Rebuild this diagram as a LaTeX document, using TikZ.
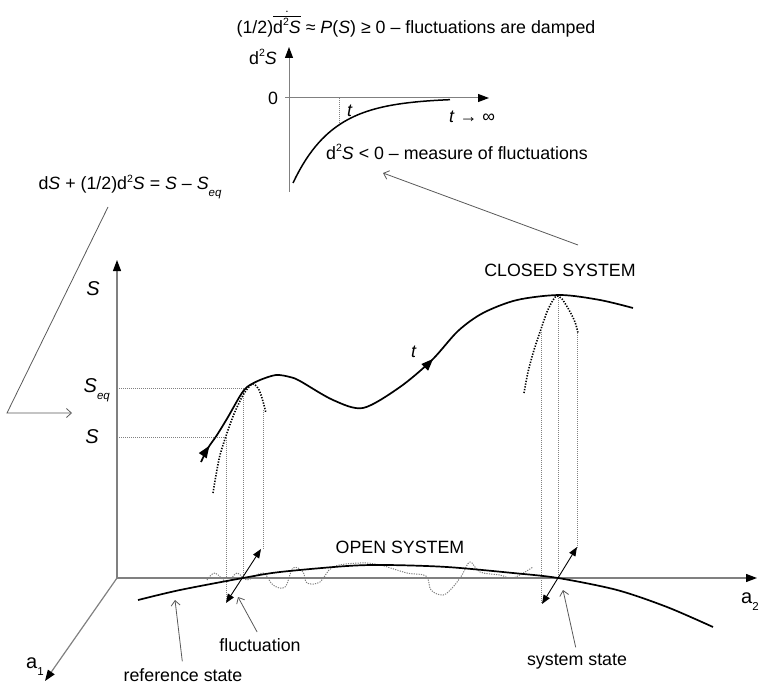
\documentclass[tikz,border=0pt]{standalone}
\usepackage{amsmath}
\usepackage{fontspec}
\setmainfont{Liberation Sans}
\usepackage{tikz}
\usetikzlibrary{arrows.meta,calc,positioning,decorations.markings}

\newcommand{\lowidx}[1]{\raisebox{-0.7ex}{\fontsize{11.5}{12}\selectfont #1}}
\newcommand{\ddue}{d\raisebox{0.8ex}{\fontsize{10.5}{11}\selectfont 2}}

\begin{document}
\begin{tikzpicture}[x=1pt, y=-1pt,
        lbl/.style={font=\fontsize{17.8}{20}\selectfont, inner sep=1pt},
        big/.style={font=\fontsize{20}{22}\selectfont, inner sep=0pt},
        asse/.style={gray, line width=1.2pt, -{Triangle[length=11pt,width=8pt,color=black]}},
        curva/.style={line width=1.7pt},
        proiez/.style={gray, line width=0.7pt, dash pattern=on 1pt off 1pt},
        parab/.style={line width=1.6pt, dash pattern=on 1.3pt off 1.5pt},
        puntatore/.style={gray!70!black, line width=0.8pt, -{Straight Barb[length=5pt,width=9pt]}},
        fluttua/.style={line width=0.9pt, {Triangle[length=9pt,width=7pt]}-{Triangle[length=9pt,width=7pt]}}]
        \useasboundingbox (0,0) rectangle (760,687);

        % Assi
        \coordinate (O) at (117,578);
        \coordinate (Sfine) at (117,260);
        \coordinate (a2fine) at (757,578);
        \coordinate (a1fine) at (45,681);
        \draw[asse] (O) -- (Sfine);
        \draw[asse] (O) -- (a2fine);
        \draw[asse] (O) -- (a1fine);
        \node[big, anchor=base west] (a2lab) at (741,603) {a\lowidx{2}};
        \node[big, anchor=base west] (a1lab) at (26,668) {a\lowidx{1}};
        \node[big, anchor=base] (Slab) at (93,295) {\textit{S}};
        \node[big, anchor=base east] (Seqlab) at (110,392) {\textit{S}\lowidx{\textit{eq}}};
        \node[big, anchor=base] (Slowlab) at (92,443) {\textit{S}};

        % Proiezioni
        \draw[proiez] (O |- 0,388) -- (243,388) -- (243,580);
        \draw[proiez] (O |- 0,437) -- (226,437) -- (226,602);
        \draw[proiez] (263,410) -- (263,549);
        \draw[proiez] (541,332) -- (541,604);
        \draw[proiez] (558,296) -- (558,578);
        \draw[proiez] (577,333) -- (577,548);

        % Sistema aperto
        \draw[gray, line width=1pt, dash pattern=on 1.2pt off 1.2pt] plot[smooth, tension=0.6] coordinates {
            (207,580) (215,573) (227,582) (237,573) (247,580) (263,573) (273,585) (285,587)
            (293,568) (303,572) (307,583) (320,582) (333,567) (360,563) (380,565) (407,573)
            (426,576) (431,590) (443,595) (453,587) (462,575) (470,562) (480,572) (500,575)
            (513,578) (533,567)};
        \draw[curva] plot[smooth] coordinates {(138,600) (180,590) (243,578) (280,572) (347,566)
            (387,565) (447,567) (513,573) (558,578) (617,590) (667,607) (713,627)};
        \node[lbl] (open) at (400,547) {OPEN SYSTEM};

        % Sistema chiuso
        \draw[curva, postaction={decorate}, decoration={markings,
                mark=at position 0.035 with {\arrow{Triangle[length=12pt,width=9pt]}},
                mark=at position 0.575 with {\arrow{Triangle[length=12pt,width=9pt]}}}]
            plot[smooth] coordinates {(201,462) (208,448) (217,435) (228,417) (240,396) (247,387)
            (260,380) (276,375) (290,377) (300,381) (333,400) (363,408) (400,387) (432,360)
            (458,331) (483,313) (517,300) (560,295) (600,300) (633,308)};
        \draw[parab] plot[smooth] coordinates {(213,493) (216,475) (220,455) (227,433) (234,414)
            (242,397) (248,388) (253,384) (258,388) (262,398) (266,413)};
        \draw[parab] plot[smooth] coordinates {(524,393) (528,372) (534,350) (540,332) (547,312)
            (553,300) (557,296) (562,299) (569,310) (575,322) (578,333)};
        \node[lbl] (closed) at (560,270) {CLOSED SYSTEM};
        \node[lbl] (tcurva) at (414,352) {\textit{t}};

        % Fluttuazioni
        \coordinate (fl1a) at (261,549);
        \coordinate (fl1b) at (226,603);
        \coordinate (fl2a) at (577,547);
        \coordinate (fl2b) at (542,604);
        \draw[fluttua] (fl1b) -- (fl1a);
        \draw[fluttua] (fl2b) -- (fl2a);

        % Etichette in basso
        \node[lbl] (refstate) at (183,675) {reference state};
        \node[lbl] (fluct) at (260,645) {fluctuation};
        \node[lbl] (sysstate) at (577,662) {system state};
        \coordinate (refpt) at (175,600);
        \coordinate (flpt) at (238,597);
        \coordinate (syspt) at (563,590);
        \draw[puntatore, shorten <=6pt] (refstate.north) -- (refpt);
        \draw[puntatore, shorten <=6pt] (fluct.north) -- (flpt);
        \draw[puntatore, shorten <=6pt] (sysstate.north) -- (syspt);

        % Equazione a sinistra
        \node[lbl] (eqS) at (130,187) {d\textit{S} + (1/2)\ddue\textit{S} = \textit{S} -- \textit{S}\lowidx{\textit{eq}}};
        \coordinate (eqpiede) at (108,207);
        \coordinate (gomito) at (7,413);
        \coordinate (Seqpt) at (72,413);
        \draw[puntatore] (eqpiede) -- (gomito) -- (Seqpt);

        % Riquadro d2S(t)
        \coordinate (O2) at (289,98);
        \draw[asse, line width=1pt] (289,192) -- (289,47);
        \draw[asse, line width=1pt] (285,98) -- (489,98);
        \draw[proiez] (339,98) -- (339,125);
        \draw[line width=1.5pt] plot[domain=293:450, samples=50] (\x, {98+85*exp(-(\x-293)/40)});
        \node[lbl] (d2S) at (263,57) {\ddue\textit{S}};
        \node[lbl] (zero) at (273,98) {0};
        \node[lbl] (tin) at (350,111) {\textit{t}};
        \node[lbl] (tinf) at (472,117) {\textit{t} → ∞};
        \node[lbl] (measure) at (457,152) {\ddue\textit{S} < 0 -- measure of fluctuations};
        \node[lbl] (damped) at (416,24) {(1/2)$\dot{\overline{\text{\ddue\textit{S}}}}$ ≈ \textit{P}(\textit{S}) ≥ 0 -- fluctuations are damped};
        \coordinate (chiusopt) at (578,245);
        \coordinate (misurapt) at (383,173);
        \draw[puntatore] (chiusopt) -- (misurapt);
    \end{tikzpicture}
\end{document}
